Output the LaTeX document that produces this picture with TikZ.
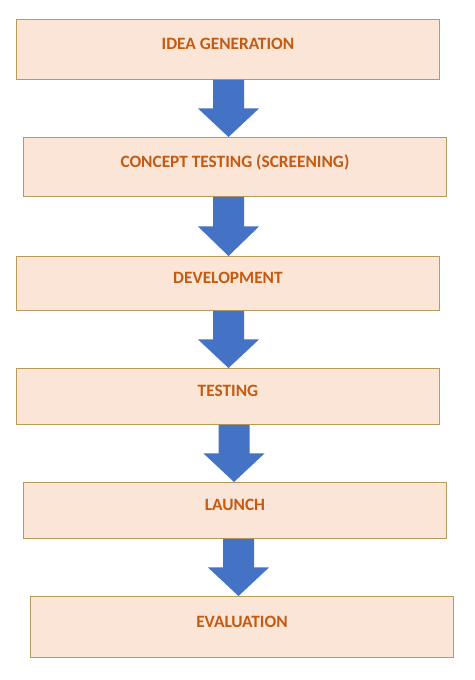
\documentclass[tikz,border=0pt]{standalone}
\usepackage{fontspec}
\setmainfont{Carlito}
\usetikzlibrary{calc}
\definecolor{boxfill}{HTML}{FBE5D6}
\definecolor{boxline}{HTML}{B89A5A}
\definecolor{boxtext}{HTML}{C55A11}
\definecolor{arrowblue}{HTML}{4472C4}
\newcommand{\blockarrowdraw}[3]{%
  \coordinate (ax) at (#3,0);
  \fill[arrowfill]
    ($(ax |- #1.south)+(-15.5,0)$) --
    ($(ax |- #1.south)+(15.5,0)$) --
    ($(ax |- #1.south)!0.5!(ax |- #2.north)+(15.5,0)$) --
    ($(ax |- #1.south)!0.5!(ax |- #2.north)+(30.5,0)$) --
    (ax |- #2.north) --
    ($(ax |- #1.south)!0.5!(ax |- #2.north)+(-30.5,0)$) --
    ($(ax |- #1.south)!0.5!(ax |- #2.north)+(-15.5,0)$) -- cycle;
}
\begin{document}
\begin{tikzpicture}[x=1pt,y=-1pt,
  stagebox/.style={draw=boxline, line width=0.9pt, fill=boxfill, text=boxtext,
    font=\fontsize{17.3}{20}\selectfont\bfseries, minimum width=423pt,
    inner sep=0pt, text height=11pt, text depth=10.5pt, anchor=north west},
  arrowfill/.style={fill=arrowblue}]
\useasboundingbox (0,0) rectangle (474,680);
\node[stagebox, minimum height=60pt] (b1) at (16,19) {IDEA GENERATION};
\node[stagebox, minimum height=59pt] (b2) at (23,137) {CONCEPT TESTING (SCREENING)};
\node[stagebox, minimum height=54pt] (b3) at (16,256) {DEVELOPMENT};
\node[stagebox, minimum height=56pt] (b4) at (16,368) {TESTING};
\node[stagebox, minimum height=56pt] (b5) at (23,482) {LAUNCH};
\node[stagebox, minimum height=61pt] (b6) at (30,596) {EVALUATION};
\blockarrowdraw{b1}{b2}{228.5}
\blockarrowdraw{b2}{b3}{228.5}
\blockarrowdraw{b3}{b4}{228.5}
\blockarrowdraw{b4}{b5}{234}
\blockarrowdraw{b5}{b6}{238.5}
\end{tikzpicture}
\end{document}
